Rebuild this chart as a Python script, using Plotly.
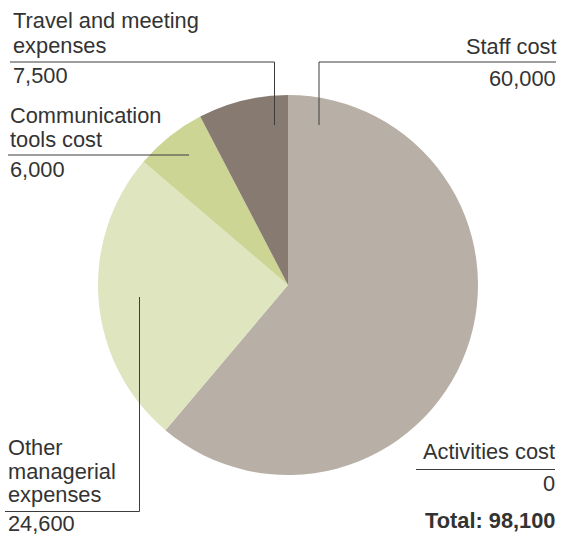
import plotly.graph_objects as go

# Budget breakdown
categories = ["Staff cost", "Activities cost", "Other managerial expenses",
              "Communication tools cost", "Travel and meeting expenses"]
values = [60000, 0, 24600, 6000, 7500]
colors = ["#b8b0a6", "#b8b0a6", "#dee5bf", "#cdd595", "#877a70"]

W, H = 561, 537
TEXT = "#333333"
LINE = "#3c3c3c"
FONT = "Liberation Sans, Arial, sans-serif"
FS = 21.8


def px(x):
    return x / W


def py(y):
    return 1 - y / H


fig = go.Figure(go.Pie(
    labels=categories,
    values=values,
    sort=False,
    direction="clockwise",
    rotation=0,
    marker=dict(colors=colors, line=dict(width=0)),
    textinfo="none",
    showlegend=False,
    domain=dict(x=[px(98), px(478)], y=[py(475), py(95)]),
))

annotations = []


def label(text, x, y, anchor="left", bold=False, yanchor="middle"):
    annotations.append(dict(
        text=f"<b>{text}</b>" if bold else text,
        x=px(x), y=py(y), xref="paper", yref="paper",
        xanchor=anchor, yanchor=yanchor, showarrow=False, borderpad=0,
        font=dict(family=FONT, size=FS, color=TEXT),
    ))


shapes = []


def seg(x0, y0, x1, y1):
    shapes.append(dict(type="line", xref="paper", yref="paper",
                       x0=px(x0), y0=py(y0), x1=px(x1), y1=py(y1),
                       line=dict(color=LINE, width=1)))


fmt = lambda v: f"{v:,}"
val = dict(zip(categories, values))

# Travel and meeting expenses
label("Travel and meeting", 12, 20.8)
label("expenses", 12, 45.8)
label(fmt(val["Travel and meeting expenses"]), 12, 75.8)
seg(10, 62, 274.5, 62)
seg(274.5, 62, 274.5, 125)

# Communication tools cost
label("Communication", 9, 115.5)
label("tools cost", 9, 139.2)
label(fmt(val["Communication tools cost"]), 9, 169.2)
seg(8, 155, 189, 155)

# Staff cost
label("Staff cost", 557, 46.5, anchor="right")
label(fmt(val["Staff cost"]), 557, 78.2, anchor="right")
seg(319, 62, 556, 62)
seg(319, 62, 319, 125)

# Other managerial expenses
label("Other", 7, 447.5)
label("managerial", 7, 471.5)
label("expenses", 7, 494.2)
label(fmt(val["Other managerial expenses"]), 7, 537, yanchor="bottom")
seg(5, 511.5, 139.5, 511.5)
seg(139.5, 297, 139.5, 511.5)

# Activities cost
label("Activities cost", 556, 451.8, anchor="right")
label(fmt(val["Activities cost"]), 556, 483.5, anchor="right")
seg(416, 469.5, 555, 469.5)

# Total
label(f"Total: {fmt(sum(values))}", 556, 520.8, anchor="right", bold=True)

fig.update_layout(
    width=W, height=H,
    margin=dict(l=0, r=0, t=0, b=0),
    paper_bgcolor="white",
    plot_bgcolor="white",
    annotations=annotations,
    shapes=shapes,
)

fig.write_html("out.html")
